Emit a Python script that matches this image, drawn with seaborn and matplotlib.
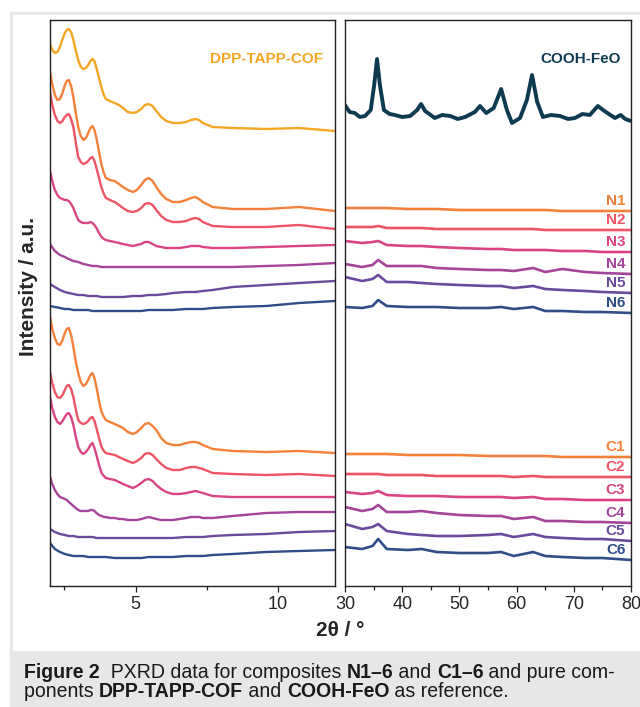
import pandas as pd
import matplotlib
matplotlib.use("Agg")
import matplotlib.pyplot as plt
import seaborn as sns
from matplotlib.patches import Rectangle

# ---- low-angle range, 2theta 2-12 (offset stacked, a.u.) ----
# dense sampling for the curves that carry the COF reflections
theta_fine = [2.0, 2.08, 2.17, 2.26, 2.35, 2.44, 2.52, 2.59, 2.66, 2.74,
              2.82, 2.9, 2.99, 3.08, 3.17, 3.26, 3.34, 3.42, 3.49, 3.56,
              3.63, 3.72, 3.81, 3.89, 3.96, 4.1, 4.27, 4.42, 4.56, 4.73,
              4.91, 5.05, 5.2, 5.33, 5.46, 5.6, 5.73, 5.9, 6.08, 6.31,
              6.55, 6.78, 6.95, 7.1, 7.23, 7.36, 7.71, 8.41, 9.58, 10.74, 12.0]
cof_low = [542, 536, 533, 534, 539, 547, 553, 556, 557, 554,
           546, 536, 526, 519, 517, 518, 521, 525, 527, 525,
           518, 508, 498, 491, 487, 485, 483, 481, 478, 474,
           473, 474, 477, 481, 482, 480, 475, 469, 465, 463,
           463, 464, 466, 467, 466, 463, 459, 458, 457, 458, 455]
n1_low = [515, 502, 491, 486, 487, 493, 501, 505, 506, 500,
          489, 474, 459, 450, 446, 448, 453, 458, 460, 456,
          448, 434, 421, 413, 408, 406, 405, 402, 399, 396,
          394, 396, 401, 406, 408, 405, 399, 392, 387, 384,
          384, 386, 388, 389, 387, 384, 379, 377, 377, 379, 375]
n2_low = [494, 481, 471, 465, 463, 465, 469, 471, 472, 467,
          459, 444, 429, 424, 422, 423, 425, 428, 429, 425,
          418, 408, 398, 392, 388, 386, 384, 381, 378, 375,
          374, 375, 378, 382, 383, 381, 376, 370, 366, 364,
          364, 365, 367, 368, 367, 364, 360, 359, 359, 361, 357]
n3_low = [415, 405, 396, 391, 388, 387, 386, 386, 385, 382,
          378, 372, 366, 364, 363, 363, 363, 364, 363, 361,
          358, 353, 349, 347, 346, 345, 344, 343, 342, 341,
          340, 341, 342, 344, 344, 342, 340, 339, 338, 338,
          338, 339, 340, 340, 340, 339, 338, 338, 339, 340, 341]
c1_low = [269, 257, 248, 242, 241, 246, 253, 257, 258, 251,
          239, 225, 213, 204, 200, 202, 206, 211, 213, 208,
          199, 185, 174, 169, 166, 164, 162, 160, 158, 154,
          152, 154, 158, 162, 163, 160, 156, 148, 143, 141,
          141, 143, 144, 144, 143, 141, 137, 135, 134, 135, 133]
c2_low = [214, 203, 194, 189, 188, 191, 196, 200, 201, 197,
          189, 177, 166, 163, 162, 163, 165, 168, 169, 165,
          158, 148, 139, 135, 133, 132, 131, 129, 127, 125,
          123, 125, 128, 132, 133, 131, 127, 122, 118, 116,
          116, 118, 119, 119, 118, 117, 113, 112, 111, 112, 110]
c3_low = [189, 178, 169, 164, 162, 165, 169, 172, 173, 169,
          161, 150, 139, 134, 132, 134, 137, 141, 143, 138,
          131, 121, 113, 110, 108, 107, 106, 104, 102, 100,
          98, 100, 103, 106, 107, 105, 101, 97, 94, 92,
          92, 93, 94, 95, 94, 93, 90, 89, 89, 89, 89]
c4_low = [109, 102, 96, 92, 89, 88, 87, 86, 84, 82,
          80, 78, 76, 75, 75, 75, 75, 76, 76, 75,
          73, 71, 70, 69, 69, 68, 68, 67, 67, 66,
          66, 66, 67, 68, 69, 68, 67, 66, 66, 66,
          67, 68, 69, 69, 69, 68, 68, 70, 73, 74, 74]

# coarse sampling for the nearly featureless traces
theta_coarse = [2.0, 2.17, 2.35, 2.52, 2.66, 2.82, 2.99, 3.17, 3.34, 3.49, 3.63, 3.81,
                3.96, 4.27, 4.56, 4.91, 5.2, 5.46, 5.73, 6.08, 6.31, 6.78, 7.1, 7.36,
                7.71, 8.41, 9.58, 10.74, 12.0]
n4_low = [342, 335, 331, 329, 327, 325, 324, 322, 321, 320, 320, 319,
          319, 319, 319, 319, 319, 319, 319, 319, 319, 319, 319, 319,
          319, 319, 320, 321, 323]
n5_low = [302, 299, 296, 294, 293, 292, 291, 291, 290, 290, 290, 289,
          289, 289, 289, 290, 290, 291, 291, 292, 293, 294, 294, 295,
          296, 299, 301, 303, 305]
n6_low = [280, 279, 278, 277, 277, 276, 276, 276, 276, 275, 275, 275,
          275, 275, 275, 275, 275, 276, 276, 276, 276, 277, 277, 277,
          278, 279, 280, 283, 285]
c5_low = [57, 54, 52, 51, 50, 50, 49, 49, 49, 49, 48, 48,
          48, 48, 48, 48, 48, 48, 48, 48, 48, 49, 49, 49,
          50, 51, 52, 54, 55]
c6_low = [43, 37, 34, 32, 31, 30, 30, 30, 29, 29, 29, 29,
          29, 28, 28, 28, 28, 29, 29, 29, 29, 30, 30, 30,
          31, 32, 34, 35, 36]

# ---- wide-angle range, 2theta 30-80 ----
theta_high = [30, 33, 34.8, 35.8, 37.3, 41, 43.4, 46, 50, 55, 57.3, 59.5,
              62.9, 65, 68, 72, 75, 80]
n1_high = [378, 378, 378, 378, 378, 377, 377, 377, 376, 376, 376, 376, 376, 376, 375, 375, 375, 375]
n2_high = [359, 359, 359, 360, 358, 358, 358, 357, 357, 357, 357, 357, 357, 356, 356, 356, 356, 356]
n3_high = [345, 343, 344, 345, 341, 340, 340, 339, 338, 337, 337, 336, 336, 336, 335, 335, 334, 334]
n4_high = [322, 319, 321, 326, 320, 320, 320, 318, 317, 316, 316, 315, 318, 314, 317, 314, 313, 312]
n5_high = [309, 305, 307, 311, 304, 304, 303, 302, 301, 300, 300, 298, 300, 297, 296, 295, 294, 293]
n6_high = [279, 278, 280, 286, 280, 279, 279, 279, 278, 278, 279, 277, 279, 275, 275, 274, 274, 273]
c1_high = [132, 132, 132, 132, 132, 131, 131, 131, 131, 130, 130, 130, 130, 130, 129, 129, 129, 129]
c2_high = [112, 112, 112, 112, 111, 111, 111, 110, 110, 110, 110, 109, 110, 109, 109, 109, 109, 109]
c3_high = [94, 92, 93, 95, 91, 90, 90, 90, 89, 89, 89, 88, 89, 87, 87, 86, 86, 86]
c4_high = [79, 75, 77, 81, 74, 74, 75, 73, 71, 70, 70, 67, 69, 65, 65, 64, 64, 63]
c5_high = [62, 57, 59, 62, 55, 52, 51, 50, 50, 51, 52, 49, 52, 49, 48, 47, 47, 45]
c6_high = [39, 37, 40, 47, 37, 36, 37, 34, 33, 33, 34, 30, 34, 30, 29, 28, 28, 26]

theta_feo = [30.0, 30.8, 31.7, 32.6, 33.5, 34.5, 35.1, 35.6, 36.1, 36.8, 37.8, 38.7,
             40.0, 41.4, 42.6, 43.3, 44.0, 45.7, 47.0, 48.4, 49.7, 51.0, 52.7, 53.6,
             54.7, 56.0, 57.3, 58.3, 59.2, 60.6, 61.8, 62.7, 63.6, 64.6, 66.0, 67.6,
             69.0, 70.2, 71.5, 72.8, 74.2, 75.6, 77.2, 78.2, 79.0, 80.0]
feo_high = [481, 474, 473, 469, 470, 476, 501, 527, 501, 476, 472, 471,
            469, 470, 476, 482, 475, 468, 471, 470, 467, 469, 474, 480,
            473, 478, 497, 476, 463, 468, 486, 511, 484, 469, 471, 470,
            467, 468, 472, 471, 480, 474, 468, 471, 467, 465]

samples = ["N1", "N2", "N3", "N4", "N5", "N6", "C1", "C2", "C3", "C4", "C5", "C6"]
low_sets = [n1_low, n2_low, n3_low, n4_low, n5_low, n6_low,
            c1_low, c2_low, c3_low, c4_low, c5_low, c6_low]
high_sets = [n1_high, n2_high, n3_high, n4_high, n5_high, n6_high,
             c1_high, c2_high, c3_high, c4_high, c5_high, c6_high]
series_colors = ["#F4813A", "#EF5466", "#D94482", "#A5449A", "#6A4A9C", "#2F4D88"]
palette = {s: series_colors[i % 6] for i, s in enumerate(samples)}
cof_color = "#F5A623"
feo_color = "#0E3B52"

low_df = pd.concat([pd.DataFrame({"theta": theta_fine if len(v) == len(theta_fine) else theta_coarse,
                                  "intensity": v, "sample": s})
                    for s, v in zip(samples, low_sets)], ignore_index=True)
high_df = pd.concat([pd.DataFrame({"theta": theta_high, "intensity": v, "sample": s})
                     for s, v in zip(samples, high_sets)], ignore_index=True)
cof_df = pd.DataFrame({"theta": theta_fine, "intensity": cof_low})
feo_df = pd.DataFrame({"theta": theta_feo, "intensity": feo_high})

sns.set_style("ticks")
plt.rcParams["font.family"] = ["Liberation Sans", "DejaVu Sans"]

W, H = 640, 707
fig = plt.figure(figsize=(W / 100, H / 100), dpi=100)

# page frame + caption box
fig.patches.append(Rectangle((10 / W, 0), 1, 1 - 12 / H, transform=fig.transFigure,
                             color="#E6E7E8", zorder=-3))
fig.patches.append(Rectangle((13 / W, 1 - 650 / H), 1, (650 - 15) / H,
                             transform=fig.transFigure, color="white", zorder=-2))

bottom, height = (H - 586) / H, 566 / H
ax1 = fig.add_axes([50 / W, bottom, 285 / W, height])
ax2 = fig.add_axes([345 / W, bottom, 286 / W, height])

line_kw = dict(solid_joinstyle="round", solid_capstyle="round")
sns.lineplot(data=low_df, x="theta", y="intensity", hue="sample", units="sample",
             estimator=None, palette=palette, legend=False, lw=1.7, ax=ax1, **line_kw)
sns.lineplot(data=cof_df, x="theta", y="intensity", color=cof_color, lw=1.7, ax=ax1,
             **line_kw)
sns.lineplot(data=high_df, x="theta", y="intensity", hue="sample", units="sample",
             estimator=None, palette=palette, legend=False, lw=1.9, ax=ax2, **line_kw)
sns.lineplot(data=feo_df, x="theta", y="intensity", color=feo_color, lw=2.8, ax=ax2,
             **line_kw)

ax1.set_xlim(2, 12)
ax2.set_xlim(30, 80)
ax1.set_xticks([5, 10])
ax1.set_xticks([2.5, 7.5], minor=True)
ax2.set_xticks(range(30, 81, 10))
ax2.set_xticks(range(35, 80, 10), minor=True)
for ax in (ax1, ax2):
    ax.set_ylim(0, 566)
    ax.set_yticks([])
    ax.set_xlabel("")
    ax.set_ylabel("")
    ax.tick_params(axis="x", which="major", direction="out", length=4, width=0.9,
                   labelsize=13, pad=3, color="#222222")
    ax.tick_params(axis="x", which="minor", direction="out", length=3, width=0.9,
                   color="#222222")
    for sp in ax.spines.values():
        sp.set_visible(True)
        sp.set_linewidth(1.0)
        sp.set_color("#222222")

ax1.text(11.58, 527, "DPP-TAPP-COF", color=cof_color, fontsize=11, fontweight="bold",
         ha="right", va="center")
ax2.text(78.3, 527, "COOH-FeO", color=feo_color, fontsize=11, fontweight="bold",
         ha="right", va="center")
for s, v in zip(samples, high_sets):
    ax2.text(79.0, v[-1] + 10, s, color=palette[s], fontsize=11, fontweight="bold",
             ha="right", va="center")

fig.text(340 / W, 1 - 630 / H, "2θ / °", fontsize=15, fontweight="bold",
         ha="center", va="center")
fig.text(28 / W, 1 - 287 / H, "Intensity / a.u.", fontsize=15, fontweight="bold",
         rotation=90, ha="center", va="center")

# caption with mixed bold runs, sized to the reference line width
renderer = fig.canvas.get_renderer()
line1 = [("Figure 2", True), ("  PXRD data for composites ", False), ("N1–6", True),
         (" and ", False), ("C1–6", True), (" and pure com-", False)]
line2 = [("ponents ", False), ("DPP-TAPP-COF", True), (" and ", False),
         ("COOH-FeO", True), (" as reference.", False)]


def rich_line(x, y, parts, size, draw=True):
    start = x
    made = []
    for txt, bold in parts:
        t = fig.text(x, y, txt, fontsize=size, family="Liberation Sans",
                     fontweight="bold" if bold else "normal", va="baseline", ha="left",
                     color="#1a1a1a")
        made.append(t)
        x += t.get_window_extent(renderer=renderer).width / fig.bbox.width
    if not draw:
        for t in made:
            t.remove()
    return (x - start) * W


probe = rich_line(24 / W, 0.5, line1, 12, draw=False)
cap_size = 12 * 592 / probe
rich_line(24 / W, 1 - 678 / H, line1, cap_size)
rich_line(24 / W, 1 - 697 / H, line2, cap_size)

fig.savefig("out.png", dpi=100)
